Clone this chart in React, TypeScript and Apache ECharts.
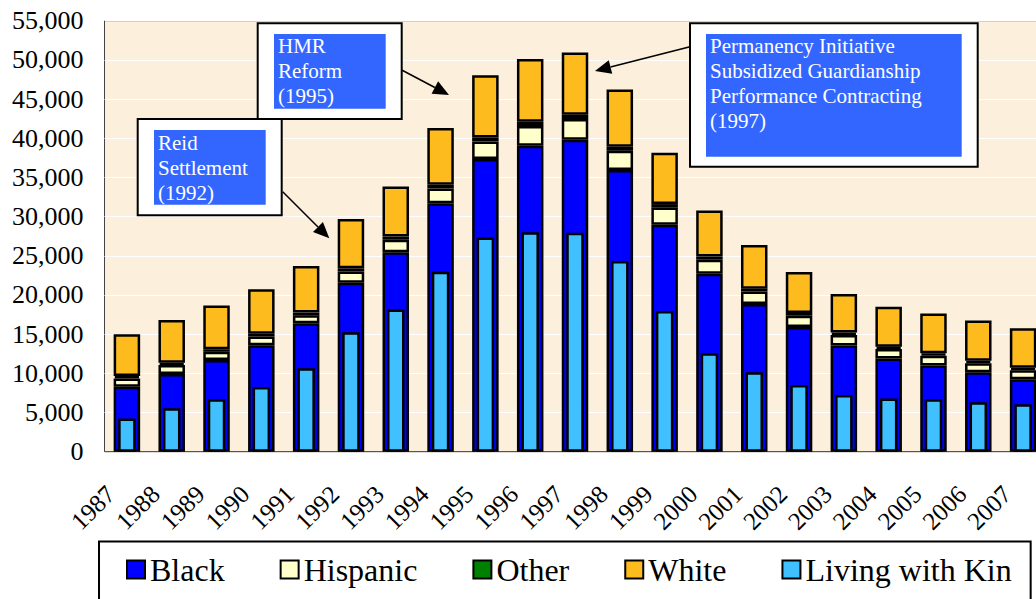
import React, { useEffect, useRef } from "react";
import * as echarts from "echarts";

const years = ["1987", "1988", "1989", "1990", "1991", "1992", "1993", "1994", "1995", "1996", "1997", "1998", "1999", "2000", "2001", "2002", "2003", "2004", "2005", "2006", "2007"];
const black = [8300, 9900, 11700, 13600, 16400, 21550, 25450, 31700, 37350, 39050, 39800, 35950, 28950, 22700, 18850, 15900, 13550, 11900, 11000, 10150, 9250];
const hispanic = [1050, 1150, 1050, 1100, 1000, 1450, 1600, 1900, 2250, 2500, 2650, 2450, 2200, 1800, 1600, 1450, 1350, 1200, 1250, 1150, 1150];
const other = [300, 300, 320, 350, 350, 400, 400, 450, 500, 550, 550, 500, 450, 400, 350, 350, 300, 300, 300, 300, 300];
const white = [5330, 5450, 5600, 5670, 5950, 6300, 6400, 7270, 7950, 8000, 7950, 7320, 6550, 5870, 5580, 5230, 4940, 5100, 5100, 5150, 5050];
const kin = [4250, 5550, 6700, 8250, 10650, 15250, 18150, 22950, 27350, 28000, 27950, 24350, 17950, 12550, 10150, 8500, 7250, 6800, 6700, 6300, 6050];
const yMin = 0;
const yMax = 55000;
const yInterval = 5000;

const FONT = "'Liberation Serif', 'Times New Roman', Times, serif";

type Note = { box: number[]; blue: number[]; text: string; tx: number; ty: number; arrow: number[] };
const notes: Note[] = [
  { box: [257.7, 23.3, 144, 95.7], blue: [274, 34, 111.7, 74.7], text: "HMR\nReform\n(1995)", tx: 278, ty: 33.5, arrow: [401.7, 70, 449, 95] },
  { box: [137.7, 119, 144, 96.3], blue: [154, 130, 111.7, 74.7], text: "Reid\nSettlement\n(1992)", tx: 158, ty: 130.2, arrow: [282.7, 191.7, 329.3, 238.3] },
  { box: [690, 23.3, 287.7, 143.4], blue: [706, 34, 255.7, 122.7], text: "Permanency Initiative\nSubsidized Guardianship\nPerformance Contracting\n(1997)", tx: 710, ty: 33.5, arrow: [690, 46.7, 595, 71] },
];

function arrowEls(x1: number, y1: number, x2: number, y2: number) {
  const dx = x2 - x1, dy = y2 - y1;
  const len = Math.hypot(dx, dy);
  const ux = dx / len, uy = dy / len;
  const L = 16, w = 7;
  const bx = x2 - ux * L, by = y2 - uy * L;
  const nx = -uy, ny = ux;
  return [
    { type: "line", z: 100, shape: { x1, y1, x2: bx, y2: by }, style: { stroke: "#000", lineWidth: 1.5 } },
    { type: "polygon", z: 100, shape: { points: [[x2, y2], [bx + nx * w, by + ny * w], [bx - nx * w, by - ny * w]] }, style: { fill: "#000" } },
  ];
}

export default function App() {
  const ref = useRef<HTMLDivElement>(null);
  useEffect(() => {
    if (!ref.current) return;
    const chart = echarts.init(ref.current, undefined, { renderer: "svg" });
    const graphics: any[] = [];
    notes.forEach((n) => {
      graphics.push({ type: "rect", z: 100, shape: { x: n.box[0], y: n.box[1], width: n.box[2], height: n.box[3] }, style: { fill: "#fff", stroke: "#000", lineWidth: 2 } });
      graphics.push({ type: "rect", z: 101, shape: { x: n.blue[0], y: n.blue[1], width: n.blue[2], height: n.blue[3] }, style: { fill: "#3366FF" } });
      graphics.push({ type: "text", z: 102, x: n.tx, y: n.ty, style: { text: n.text, fill: "#fff", fontSize: 21, fontFamily: FONT, lineHeight: 25, verticalAlign: "top" } });
      graphics.push(...arrowEls(n.arrow[0], n.arrow[1], n.arrow[2], n.arrow[3]));
    });
    const border = { borderColor: "#000", borderWidth: 2.5 };
    const stackSeries = [
      { name: "Black", data: black, color: "#0000FF" },
      { name: "Hispanic", data: hispanic, color: "#FFFFCC" },
      { name: "Other", data: other, color: "#008000" },
      { name: "White", data: white, color: "#FDBB1E" },
    ].map((s) => ({
      name: s.name,
      type: "bar",
      stack: "total",
      xAxisIndex: 0,
      barWidth: 26.5,
      data: s.data,
      itemStyle: { color: s.color, ...border },
    }));
    chart.setOption({
      animation: false,
      grid: { left: 104.5, top: 20.7, width: 941, height: 431, show: true, backgroundColor: "#FCEFDB", borderColor: "#444", borderWidth: 1 },
      legend: {
        data: ["Black", "Hispanic", "Other", "White", "Living with Kin"],
        left: 99,
        top: 541.5,
        padding: [12, 19, 20, 27],
        backgroundColor: "#fff",
        borderColor: "#000",
        borderWidth: 2,
        borderRadius: 0,
        itemWidth: 18,
        itemHeight: 18,
        itemGap: 55,
        icon: "rect",
        itemStyle: { borderColor: "#000", borderWidth: 2 },
        textStyle: { fontSize: 32, fontFamily: FONT, color: "#000" },
      },
      xAxis: [
        {
          type: "category",
          data: years,
          axisTick: { show: false },
          axisLine: { show: true, lineStyle: { color: "#555" } },
          axisLabel: { interval: 0, rotate: 45, margin: 22, padding: [0, 23, 0, 0], fontSize: 25, fontFamily: FONT, color: "#000" },
        },
        { type: "category", data: years, show: false },
      ],
      yAxis: {
        type: "value",
        min: yMin,
        max: yMax,
        interval: yInterval,
        axisLine: { show: false },
        axisTick: { show: false },
        axisLabel: { fontSize: 26, margin: 21, fontFamily: FONT, color: "#000" },
        splitLine: { lineStyle: { color: "#fff", width: 1 } },
      },
      series: [
        ...stackSeries,
        { name: "Living with Kin", type: "bar", xAxisIndex: 1, barWidth: 17.5, data: kin, itemStyle: { color: "#40C0FF", ...border } },
      ],
      graphic: graphics,
    });
    return () => chart.dispose();
  }, []);
  return (
    <div style={{ position: "fixed", left: 0, top: 0, width: 1036, height: 599, overflow: "hidden", background: "#fff" }}>
      <div ref={ref} style={{ width: 1060, height: 599 }} />
    </div>
  );
}
